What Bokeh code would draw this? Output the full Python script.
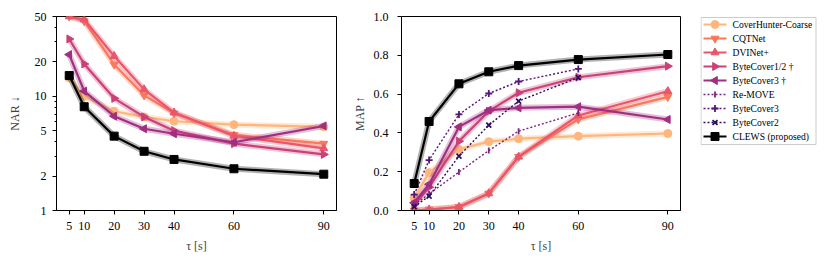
import numpy as np
from bokeh.plotting import figure
from bokeh.layouts import row
from bokeh.models import FixedTicker, Range1d, PrintfTickFormatter
from bokeh.core.properties import value
from bokeh.embed import file_html
from bokeh.resources import INLINE

tau = [5, 10, 20, 30, 40, 60, 90]
tau_short = [5, 10, 20, 30, 40, 60]

names = ["CoverHunter-Coarse", "CQTNet", "DVINet+", "ByteCover1/2 \u2020", "ByteCover3 \u2020",
         "Re-MOVE", "ByteCover3", "ByteCover2", "CLEWS (proposed)"]

# NAR (left panel)
nar_coverhunter = [14.5, 10.0, 7.4, 6.6, 6.05, 5.65, 5.4]
nar_cqtnet = [50.0, 45.5, 19.0, 10.2, 7.1, 4.6, 3.85]
nar_dvinet = [50.0, 47.0, 22.5, 11.5, 7.2, 4.5, 3.5]
nar_bytecover12 = [31.8, 19.2, 9.6, 6.6, 5.0, 3.85, 3.1]
nar_bytecover3d = [23.2, 11.1, 6.7, 5.2, 4.7, 3.96, 5.5]
nar_clews = [15.2, 8.1, 4.48, 3.3, 2.8, 2.32, 2.08]

# MAP (right panel)
map_coverhunter = [0.065, 0.195, 0.315, 0.355, 0.37, 0.383, 0.397]
map_cqtnet = [0.0, 0.005, 0.018, 0.088, 0.277, 0.47, 0.586]
map_dvinet = [0.0, 0.005, 0.018, 0.088, 0.277, 0.49, 0.615]
map_bytecover12 = [0.03, 0.12, 0.357, 0.512, 0.607, 0.687, 0.744]
map_bytecover3d = [0.04, 0.135, 0.431, 0.517, 0.529, 0.535, 0.469]
map_remove = [0.03, 0.085, 0.198, 0.309, 0.409, 0.503]
map_bytecover3 = [0.082, 0.26, 0.495, 0.603, 0.665, 0.73]
map_bytecover2 = [0.02, 0.074, 0.28, 0.44, 0.564, 0.685]
map_clews = [0.139, 0.459, 0.653, 0.715, 0.747, 0.778, 0.804]

colors = ["#feb67c", "#f9795d", "#e9566a", "#cb4077", "#a02f80",
          "#7b2382", "#55157d", "#2d1160", "#000000"]
FONT = "'Liberation Serif', serif"

# marker style per series: (marker, angle, dotted, size)
styles = [("circle", 0.0, False, 8), ("inverted_triangle", 0.0, False, 8),
          ("triangle", 0.0, False, 8), ("triangle", -np.pi / 2, False, 8),
          ("triangle", np.pi / 2, False, 8), ("dash", np.pi / 2, True, 6),
          ("cross", 0.0, True, 7), ("x", 0.0, True, 7), ("square", 0.0, False, 8)]


def style(p, ylabel, tick_standoff, label_standoff):
    p.xaxis.ticker = FixedTicker(ticks=tau)
    p.xaxis.axis_label = "\u03c4 [s]"
    p.yaxis.axis_label = ylabel
    for ax in (p.xaxis, p.yaxis):
        ax.axis_label_text_font = FONT
        ax.axis_label_text_font_size = "12px"
        ax.axis_label_text_font_style = "normal"
        ax.major_label_text_font = FONT
        ax.major_label_text_font_size = "12px"
        ax.major_label_text_color = "black"
        ax.axis_line_color = "black"
        ax.major_tick_line_color = "black"
        ax.minor_tick_line_color = "black"
        ax.major_tick_in = 0
        ax.major_tick_out = 4
        ax.minor_tick_in = 0
        ax.minor_tick_out = 2
    p.xaxis.minor_tick_line_color = None
    p.xaxis.major_label_standoff = 7
    p.xaxis.axis_label_standoff = 6
    p.yaxis.major_label_standoff = tick_standoff
    p.yaxis.axis_label_standoff = label_standoff
    p.grid.visible = False
    p.outline_line_color = "black"
    p.outline_line_alpha = 1
    p.outline_line_width = 1


def series(p, x, y, k, halo=True):
    color = colors[k]
    marker, angle, dotted, size = styles[k]
    if dotted:
        p.line(x, y, line_color=color, line_width=1.4, line_dash="2 2")
        p.scatter(x, y, marker=marker, size=size, angle=angle, line_color=color,
                  fill_color=color, line_width=1.8)
    else:
        if halo:
            p.line(x, y, line_color=color, line_width=6, line_alpha=0.3)
        p.line(x, y, line_color=color, line_width=2.2)
        p.scatter(x, y, marker=marker, size=size, angle=angle, line_color=color,
                  fill_color=color)


TOP = 16
BOTTOM = 49
FH = 194

# Left panel
p1 = figure(frame_width=280, frame_height=FH, y_axis_type="log", output_backend="svg",
            toolbar_location=None, min_border_left=56, min_border_right=9,
            min_border_top=TOP, min_border_bottom=BOTTOM,
            x_range=Range1d(0.75, 94.25), y_range=Range1d(1, 50))
style(p1, "NAR \u2193", 6, 10)
p1.yaxis.ticker = FixedTicker(ticks=[1, 2, 5, 10, 20, 50], minor_ticks=[3, 4, 6, 7, 8, 9, 30, 40])
p1.yaxis.formatter = PrintfTickFormatter(format="%d")

for k, vals in enumerate([nar_coverhunter, nar_cqtnet, nar_dvinet, nar_bytecover12, nar_bytecover3d]):
    series(p1, tau, vals, k)
series(p1, tau, nar_clews, 8)

# Right panel
p2 = figure(frame_width=279, frame_height=FH, output_backend="svg", toolbar_location=None,
            min_border_left=56, min_border_right=20, min_border_top=TOP, min_border_bottom=BOTTOM,
            x_range=Range1d(0.75, 94.25), y_range=Range1d(0, 1.0))
style(p2, "MAP \u2191", 9, 4)
p2.yaxis.ticker = FixedTicker(ticks=[0, 0.2, 0.4, 0.6, 0.8, 1.0])
p2.yaxis.formatter = PrintfTickFormatter(format="%.1f")
p2.yaxis.minor_tick_line_color = None

for k, vals in enumerate([map_coverhunter, map_cqtnet, map_dvinet, map_bytecover12, map_bytecover3d]):
    series(p2, tau, vals, k)
for k, vals in zip([5, 6, 7], [map_remove, map_bytecover3, map_bytecover2]):
    series(p2, tau_short, vals, k)
series(p2, tau, map_clews, 8)

# Legend panel: a small figure aligned with the plot frames, data units = screen pixels
W3 = 124
p3 = figure(frame_width=W3, frame_height=FH, output_backend="svg", toolbar_location=None,
            min_border_left=0, min_border_right=0, min_border_top=TOP, min_border_bottom=BOTTOM,
            x_range=Range1d(0, W3), y_range=Range1d(0, FH))
p3.axis.visible = False
p3.grid.visible = False
p3.outline_line_color = None

row_h = 14
box_top = FH - 1
first = box_top - 7
ys = [first - i * row_h for i in range(len(names))]
p3.quad(left=[0.5], right=[115.5], top=[box_top], bottom=[ys[-1] - 8],
        fill_color="white", line_color="#cccccc", line_width=1)
for k, yy in enumerate(ys):
    color = colors[k]
    marker, angle, dotted, size = styles[k]
    if dotted:
        p3.line([3, 26], [yy, yy], line_color=color, line_width=1.4, line_dash="2 2")
        p3.scatter([14.5], [yy], marker=marker, size=size, angle=angle, line_color=color,
                   fill_color=color, line_width=1.8)
    else:
        p3.line([3, 26], [yy, yy], line_color=color, line_width=2.2)
        p3.scatter([14.5], [yy], marker=marker, size=size, angle=angle, line_color=color,
                   fill_color=color)
p3.text(x=[32] * len(names), y=ys, text=names, text_font=value(FONT),
        text_font_size="9.6px", text_baseline="middle", text_align="left", text_color="black")

layout = row(p1, p2, p3)
open("out.html", "w").write(file_html(layout, INLINE))
